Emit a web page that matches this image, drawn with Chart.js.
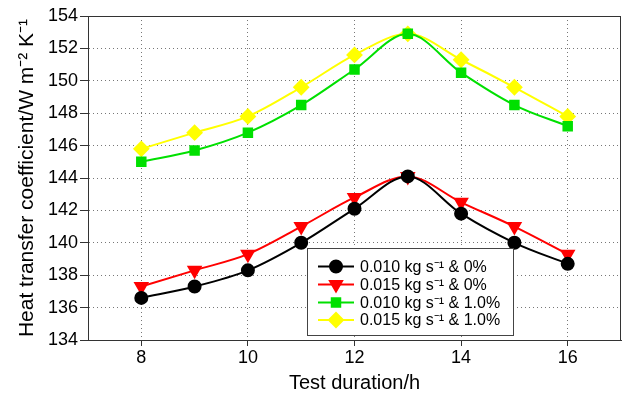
<!DOCTYPE html>
<html>
<head>
<meta charset="utf-8">
<script src="https://cdn.jsdelivr.net/npm/chart.js@4"></script>
<style>
  html, body { margin: 0; padding: 0; background: #fff; }
  #wrap { width: 630px; height: 395px; }
</style>
</head>
<body>
<div id="wrap"><canvas id="chart" width="630" height="395"></canvas></div>
<script>
// values
const hours = [8, 9, 10, 11, 12, 13, 14, 15, 16];
const black010 = [136.6, 137.3, 138.3, 140.0, 142.1, 144.1, 141.8, 140.0, 138.7];
const red015 = [137.3, 138.3, 139.3, 141.0, 142.8, 144.1, 142.5, 141.0, 139.3];
const green010 = [145.0, 145.7, 146.8, 148.5, 150.7, 152.9, 150.5, 148.5, 147.2];
const yellow015 = [145.8, 146.8, 147.8, 149.6, 151.6, 152.9, 151.3, 149.6, 147.8];
const xTicks = [8, 10, 12, 14, 16];
const seriesLabels = [
  '0.010 kg s\u207B\u00B9 & 0%',
  '0.015 kg s\u207B\u00B9 & 0%',
  '0.010 kg s\u207B\u00B9 & 1.0%',
  '0.015 kg s\u207B\u00B9 & 1.0%'
];

const FONT = "'Liberation Sans', Arial, sans-serif";

function pts(vals) {
  return hours.map((h, i) => ({ x: h, y: vals[i] }));
}

function series(label, vals, color, style, radius, rot) {
  return {
    label: label,
    data: pts(vals),
    borderColor: color,
    backgroundColor: color,
    pointBackgroundColor: color,
    pointBorderColor: color,
    pointStyle: style,
    pointRadius: radius,
    pointRotation: rot || 0,
    borderWidth: 2,
    tension: 0.35,
    cubicInterpolationMode: 'monotone'
  };
}

// draws top/right frame and the boxed legend inside the plot
const framePlugin = {
  id: 'frame',
  afterDraw(chart) {
    const c = chart.ctx;
    const a = chart.chartArea;
    c.save();
    c.strokeStyle = '#333';
    c.lineWidth = 1;
    c.strokeRect(a.left + 0.5, a.top + 0.5, a.right - a.left - 1, a.bottom - a.top);

    // legend box
    const bx = 307, by = 248, bw = 206, bh = 87;
    c.fillStyle = '#fff';
    c.fillRect(bx, by, bw, bh);
    c.strokeStyle = '#444';
    c.strokeRect(bx + 0.5, by + 0.5, bw, bh);
    const rows = [266.5, 284.5, 302.5, 320];
    chart.data.datasets.forEach((ds, i) => {
      const y = rows[i];
      c.strokeStyle = ds.borderColor;
      c.lineWidth = 2;
      c.beginPath();
      c.moveTo(318, y);
      c.lineTo(354, y);
      c.stroke();
      Chart.helpers.drawPoint(c, {
        pointStyle: ds.pointStyle,
        radius: ds.pointRadius,
        rotation: ds.pointRotation,
        borderWidth: 1
      }, 336, y);
      c.fillStyle = ds.pointBackgroundColor;
      c.fill();
      c.fillStyle = '#000';
      c.font = '16px ' + FONT;
      c.textBaseline = 'middle';
      c.fillText(ds.label, 360, y + 1);
    });
    c.restore();
  }
};

new Chart(document.getElementById('chart'), {
  type: 'line',
  data: {
    datasets: [
      series(seriesLabels[0], black010, '#000000', 'circle', 6),
      series(seriesLabels[1], red015, '#ff0000', 'triangle', 7, 180),
      series(seriesLabels[2], green010, '#00e000', 'rect', 6),
      series(seriesLabels[3], yellow015, '#ffff00', 'rectRot', 7)
    ]
  },
  options: {
    responsive: false,
    animation: false,
    layout: { padding: { top: 16, right: 2, left: 0, bottom: 0 } },
    plugins: {
      legend: { display: false },
      tooltip: { enabled: false }
    },
    scales: {
      x: {
        type: 'linear',
        min: 7,
        max: 17,
        afterBuildTicks: (s) => { s.ticks = xTicks.map(v => ({ value: v })); },
        afterFit: (s) => { s.height = 55; },
        grid: {
          color: '#777',
          tickLength: 6,
          tickColor: '#333',
          tickBorderDash: []
        },
        border: { display: true, color: '#333', dash: [1, 3] },
        ticks: { color: '#000', font: { family: FONT, size: 18 }, padding: 1, maxRotation: 0 },
        title: {
          display: true,
          text: 'Test duration/h',
          color: '#000',
          font: { family: FONT, size: 20 },
          padding: { top: 0, bottom: 0 }
        }
      },
      y: {
        min: 134,
        max: 154,
        afterFit: (s) => { s.width = 88; },
        grid: {
          color: '#777',
          tickLength: 8,
          tickColor: '#333',
          tickBorderDash: []
        },
        border: { display: true, color: '#333', dash: [1, 3] },
        ticks: { stepSize: 2, color: '#000', font: { family: FONT, size: 18 }, padding: 2 },
        title: {
          display: true,
          text: 'Heat transfer coefficient/W m\u207B\u00B2 K\u207B\u00B9',
          color: '#000',
          font: { family: FONT, size: 21 },
          padding: { top: 15, bottom: 0 }
        }
      }
    }
  },
  plugins: [framePlugin]
});
</script>
</body>
</html>
